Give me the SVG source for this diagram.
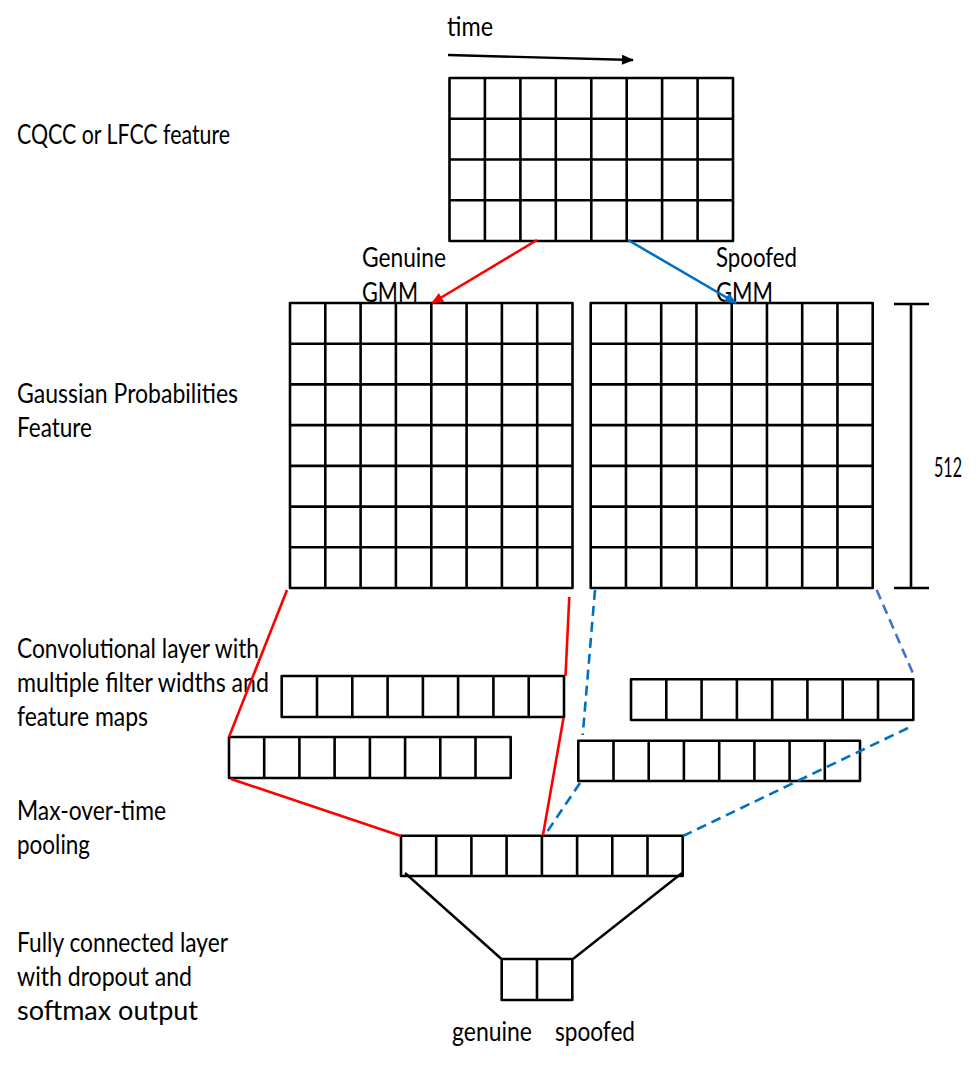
<svg xmlns="http://www.w3.org/2000/svg" width="979" height="1069" viewBox="0 0 979 1069">
<defs>
<style>
.g{fill:none;stroke:#000;stroke-width:2.6;stroke-linejoin:round}
.t{font-family:Lato,"Liberation Sans",Arial,sans-serif;font-size:26px;fill:#000}
.red{stroke:#FF0000;stroke-width:2.6;fill:none}
.blue{stroke:#0070C0;stroke-width:2.6;fill:none}
.dash{stroke:#0070C0;stroke-width:2.6;fill:none;stroke-dasharray:10 6}
.dash2{stroke:#4472C4;stroke-width:2.6;fill:none;stroke-dasharray:10 6}
.blk{stroke:#000;stroke-width:2.4;fill:none}
</style>
<marker id="ak" viewBox="0 0 12 10" refX="11" refY="5" markerWidth="13" markerHeight="10" markerUnits="userSpaceOnUse" orient="auto"><path d="M0,0 L12,5 L0,10 z" fill="#000"/></marker>
<marker id="ar" viewBox="0 0 12 10" refX="11" refY="5" markerWidth="13" markerHeight="10" markerUnits="userSpaceOnUse" orient="auto"><path d="M0,0 L12,5 L0,10 z" fill="#FF0000"/></marker>
<marker id="ab" viewBox="0 0 12 10" refX="11" refY="5" markerWidth="13" markerHeight="10" markerUnits="userSpaceOnUse" orient="auto"><path d="M0,0 L12,5 L0,10 z" fill="#0070C0"/></marker>
</defs>
<rect width="979" height="1069" fill="#fff"/>

<g id="labels">
<text class="t" x="17" y="144" textLength="213" lengthAdjust="spacingAndGlyphs">CQCC or LFCC feature</text>
<text class="t" x="17" y="402.5" textLength="221" lengthAdjust="spacingAndGlyphs">Gaussian Probabilities</text>
<text class="t" x="17" y="436.5" textLength="75" lengthAdjust="spacingAndGlyphs">Feature</text>
<text class="t" x="17" y="658" textLength="242" lengthAdjust="spacingAndGlyphs">Convolutional layer with</text>
<text class="t" x="17" y="692" textLength="252" lengthAdjust="spacingAndGlyphs">multiple filter widths and</text>
<text class="t" x="17" y="726" textLength="131" lengthAdjust="spacingAndGlyphs">feature maps</text>
<text class="t" x="17" y="819.5" textLength="149" lengthAdjust="spacingAndGlyphs">Max-over-time</text>
<text class="t" x="17" y="854" textLength="73" lengthAdjust="spacingAndGlyphs">pooling</text>
<text class="t" x="17" y="952" textLength="211" lengthAdjust="spacingAndGlyphs">Fully connected layer</text>
<text class="t" x="17" y="986" textLength="175" lengthAdjust="spacingAndGlyphs">with dropout and</text>
<text class="t" x="17" y="1020" textLength="181" lengthAdjust="spacingAndGlyphs">softmax output</text>
<text class="t" x="447" y="36" textLength="46" lengthAdjust="spacingAndGlyphs">time</text>
<text class="t" x="362" y="267" textLength="84" lengthAdjust="spacingAndGlyphs">Genuine</text>
<text class="t" x="362" y="302" textLength="56" lengthAdjust="spacingAndGlyphs">GMM</text>
<text class="t" x="716" y="267" textLength="81" lengthAdjust="spacingAndGlyphs">Spoofed</text>
<text class="t" x="716" y="302" textLength="57" lengthAdjust="spacingAndGlyphs">GMM</text>
<text class="t" x="934" y="477" textLength="28" lengthAdjust="spacingAndGlyphs">512</text>
<text class="t" x="452" y="1041" textLength="80" lengthAdjust="spacingAndGlyphs">genuine</text>
<text class="t" x="555" y="1041" textLength="80" lengthAdjust="spacingAndGlyphs">spoofed</text>
</g>

<g id="cqcc-grid">
<path class="g" d="M449.5,78 H733 V241 H449.5 Z M484.9,78 V241 M520.4,78 V241 M555.8,78 V241 M591.3,78 V241 M626.7,78 V241 M662.1,78 V241 M697.6,78 V241 M449.5,118.75 H733 M449.5,159.5 H733 M449.5,200.25 H733"/>
</g>

<g id="genuine-grid">
<path class="g" d="M290,303 H572.5 V588 H290 Z M325.3,303 V588 M360.6,303 V588 M395.9,303 V588 M431.3,303 V588 M466.6,303 V588 M501.9,303 V588 M537.2,303 V588 M290,343.7 H572.5 M290,384.4 H572.5 M290,425.1 H572.5 M290,465.9 H572.5 M290,506.6 H572.5 M290,547.3 H572.5"/>
</g>

<g id="spoofed-grid">
<path class="g" d="M590.7,303 H872.7 V588 H590.7 Z M625.95,303 V588 M661.2,303 V588 M696.45,303 V588 M731.7,303 V588 M766.95,303 V588 M802.2,303 V588 M837.45,303 V588 M590.7,343.7 H872.7 M590.7,384.4 H872.7 M590.7,425.1 H872.7 M590.7,465.9 H872.7 M590.7,506.6 H872.7 M590.7,547.3 H872.7"/>
</g>

<g id="scale-512">
<path class="g" d="M911,304 V588 M894,304 H929 M894,588 H929"/>
</g>

<g id="conv-left-upper">
<path class="g" d="M281.7,676 H564 V717 H281.7 Z M317,676 V717 M352.3,676 V717 M387.6,676 V717 M422.9,676 V717 M458.1,676 V717 M493.4,676 V717 M528.7,676 V717"/>
</g>
<g id="conv-left-lower">
<path class="g" d="M229,737 H510.7 V778 H229 Z M264.2,737 V778 M299.4,737 V778 M334.6,737 V778 M369.9,737 V778 M405.1,737 V778 M440.3,737 V778 M475.5,737 V778"/>
</g>
<g id="conv-right-upper">
<path class="g" d="M631,679.3 H913.3 V720 H631 Z M666.3,679.3 V720 M701.6,679.3 V720 M736.9,679.3 V720 M772.2,679.3 V720 M807.4,679.3 V720 M842.7,679.3 V720 M878,679.3 V720"/>
</g>
<g id="conv-right-lower">
<path class="g" d="M578.3,740.7 H860 V781 H578.3 Z M613.5,740.7 V781 M648.7,740.7 V781 M683.9,740.7 V781 M719.2,740.7 V781 M754.4,740.7 V781 M789.6,740.7 V781 M824.8,740.7 V781"/>
</g>
<g id="pooling">
<path class="g" d="M401,835.7 H682.7 V876 H401 Z M436.2,835.7 V876 M471.4,835.7 V876 M506.6,835.7 V876 M541.9,835.7 V876 M577.1,835.7 V876 M612.3,835.7 V876 M647.5,835.7 V876"/>
</g>
<g id="output">
<path class="g" d="M501.7,959 H572.3 V1000 H501.7 Z M537,959 V1000"/>
</g>

<g id="connectors">
<line class="blk" x1="448" y1="55" x2="633" y2="60" marker-end="url(#ak)"/>
<line class="red" x1="537" y1="240" x2="432" y2="303" marker-end="url(#ar)"/>
<line class="blue" x1="628" y1="240" x2="736" y2="303" marker-end="url(#ab)"/>
<line class="red" x1="287" y1="590" x2="229" y2="737"/>
<line class="red" x1="231" y1="779" x2="401" y2="836"/>
<line class="red" x1="569.3" y1="597" x2="565.5" y2="676"/>
<line class="red" x1="563.5" y1="718" x2="543" y2="835"/>
<line class="dash" x1="595" y1="590" x2="582.7" y2="735"/>
<line class="dash" x1="580" y1="783" x2="545" y2="835"/>
<line class="dash2" x1="876.7" y1="590" x2="915" y2="678"/>
<line class="dash" x1="908" y1="728" x2="683" y2="836"/>
<line class="blk" x1="405" y1="873" x2="501.5" y2="959"/>
<line class="blk" x1="682" y1="873" x2="573" y2="959"/>
</g>
</svg>
